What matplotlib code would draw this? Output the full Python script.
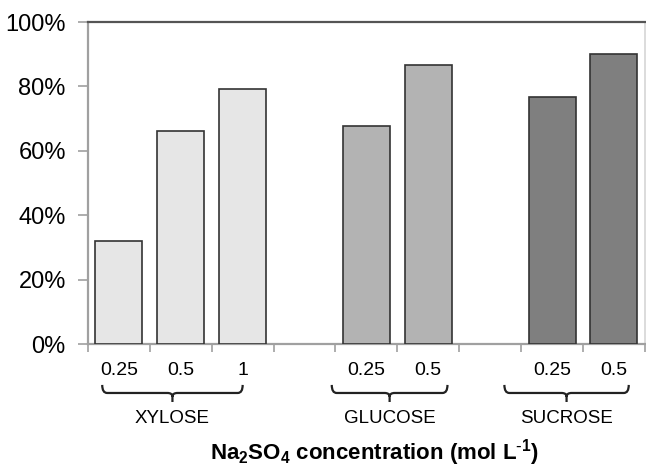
import matplotlib.pyplot as plt
from matplotlib.path import Path
from matplotlib.patches import PathPatch
from matplotlib.ticker import PercentFormatter

plt.rcParams['font.family'] = ['Liberation Sans', 'DejaVu Sans']
plt.rcParams['mathtext.default'] = 'regular'

# ---- Data ----
groups = ['XYLOSE', 'GLUCOSE', 'SUCROSE']
concentrations = [['0.25', '0.5', '1'], ['0.25', '0.5'], ['0.25', '0.5']]
values = [[0.32, 0.663, 0.793], [0.678, 0.867], [0.768, 0.902]]
colors = ['#e6e6e6', '#b3b3b3', '#7f7f7f']

# ---- Layout ----
fig = plt.figure(figsize=(6.46, 4.70), dpi=100)
ax = fig.add_axes([0.1362, 0.268, 0.862, 0.685])

# bar slots: one empty slot between groups
pos = 0
centers, labels = [], []
group_spans = []
for g, (concs, vals, c) in enumerate(zip(concentrations, values, colors)):
    xs = list(range(pos, pos + len(vals)))
    ax.bar(xs, vals, width=0.76, color=c, edgecolor='#333333', linewidth=1.2, zorder=3)
    centers += xs
    labels += concs
    group_spans.append((xs[0], xs[-1]))
    pos += len(vals) + 1

n_slots = pos - 1
ax.set_xlim(-0.5, n_slots - 0.5)
ax.set_ylim(0, 1)

# ---- Axes styling ----
ax.yaxis.set_major_formatter(PercentFormatter(1.0, decimals=0))
ax.set_yticks([0, 0.2, 0.4, 0.6, 0.8, 1.0])
ax.tick_params(axis='y', length=7, width=1.2, color='#a0a0a0', labelsize=17, pad=9)

ax.set_xticks(centers)
ax.set_xticklabels(labels)
ax.set_xticks([i - 0.5 for i in range(n_slots + 1)], minor=True)
ax.tick_params(axis='x', which='major', length=0, labelsize=14, pad=13)
ax.tick_params(axis='x', which='minor', length=6, width=1.2, color='#a0a0a0')

ax.spines['left'].set_color('#a0a0a0')
ax.spines['left'].set_linewidth(1.6)
ax.spines['bottom'].set_color('#a0a0a0')
ax.spines['bottom'].set_linewidth(1.6)
ax.spines['top'].set_color('#555555')
ax.spines['top'].set_linewidth(1.6)
ax.spines['right'].set_color('#d5d5d5')
ax.spines['right'].set_linewidth(1.2)

# ---- Group braces ----
trans = ax.get_xaxis_transform()
brace_pad = [(-0.27, 0.0), (-0.56, 0.31), (-0.77, 0.24)]
y_top, y_mid, y_tip = -0.127, -0.152, -0.180
r = 0.08  # corner rounding in data units
ry = 0.012
for (first, last), (pl, pr), name in zip(group_spans, brace_pad, groups):
    x0, x1 = first + pl, last + pr
    xm = (x0 + x1) / 2
    verts = [(x0, y_top), (x0, y_mid), (x0 + r, y_mid),
             (xm - r, y_mid), (xm, y_mid), (xm, y_mid - ry),
             (xm, y_tip), (xm, y_tip), (xm, y_mid - ry),
             (xm, y_mid), (xm + r, y_mid),
             (x1 - r, y_mid), (x1, y_mid), (x1, y_top)]
    codes = [Path.MOVETO, Path.CURVE3, Path.CURVE3,
             Path.LINETO, Path.CURVE3, Path.CURVE3,
             Path.LINETO, Path.MOVETO, Path.MOVETO,
             Path.CURVE3, Path.CURVE3,
             Path.LINETO, Path.CURVE3, Path.CURVE3]
    ax.add_patch(PathPatch(Path(verts, codes), facecolor='none', edgecolor='#222222',
                           lw=1.6, transform=trans, clip_on=False))
    ax.text(xm, -0.23, name, transform=trans, ha='center', va='center',
            fontsize=13.5)

fig.text(0.58, 0.004, r'Na$_2$SO$_4$ concentration (mol L$^{\text{-}1}$)',
         ha='center', va='bottom', fontsize=16, fontweight='bold')

plt.savefig('out.png', dpi=100)
